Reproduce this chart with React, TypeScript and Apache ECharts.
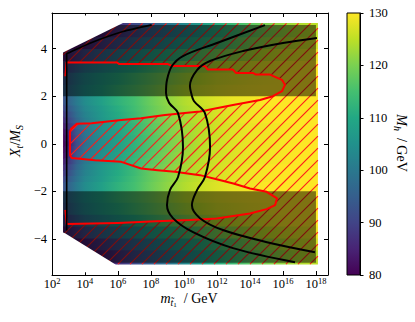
import React, { useEffect, useRef } from 'react';
import * as echarts from 'echarts';

const SERIF = 'Liberation Serif, DejaVu Serif, serif';

// columns of the Mh table: log10(m_stop / GeV)
const logMass = [2.67, 3, 3.5, 4, 5, 6, 7, 8, 9, 10, 11, 12, 13, 14, 15, 16, 17, 18.12];
// |Xt/MS| bands (mirrored to negative Xt)
const xtBandLow = [0, 0.125, 0.375, 0.625, 0.875, 1.125, 1.375, 1.625, 2.0, 2.5, 3.0, 3.5, 4.0, 4.5];
const xtBandHigh = [0.125, 0.375, 0.625, 0.875, 1.125, 1.375, 1.625, 2.0, 2.5, 3.0, 3.5, 4.0, 4.5, 5.06];
const mhRows = [
  [80, 84, 92, 98, 104, 108, 112, 116, 119.5, 122, 124.5, 126, 127.5, 128.5, 129, 129.5, 130, 130],
  [81, 85, 92.5, 98.5, 104, 108, 112, 116, 119.5, 122, 124.5, 126, 127.5, 128.5, 129, 129.5, 130, 130],
  [82, 86, 93.5, 99, 104.5, 108.5, 112.5, 116.5, 120, 122.5, 124.5, 126, 127.5, 128.5, 129, 129.5, 130, 130],
  [84, 88, 95, 100, 105, 109, 113, 117, 120, 122.5, 124.5, 126.5, 127.5, 128.5, 129, 129.5, 130, 130],
  [86, 90, 96.5, 101, 106, 110, 113.5, 117.5, 120.5, 123, 125, 126.5, 128, 129, 129.5, 130, 130, 130],
  [88, 92, 98, 102, 106.5, 110.5, 114, 118, 121, 123, 125, 127, 128, 129, 129.5, 130, 130, 130],
  [90, 94, 99, 103, 107, 111, 114.5, 118, 121, 123.5, 125.5, 127, 128, 129, 129.5, 130, 130, 130],
  [92, 96, 100.5, 104, 108, 112, 115, 118.5, 121.5, 124, 126, 127.5, 128.5, 129, 130, 130, 130, 130],
  [94, 97.5, 101.5, 105, 109, 113, 116, 119, 122, 124.5, 126.5, 128, 129, 129.5, 130, 130, 130, 130],
  [92, 95.5, 100, 103.5, 107.5, 111, 114.5, 117.5, 120.5, 123, 125, 127, 128, 129, 129.5, 130, 130, 130],
  [88, 91, 95, 99, 103, 107, 110.5, 114, 117, 120, 122.5, 124.5, 126, 127.5, 128.5, 129.5, 130, 130],
  [83, 85, 88, 91, 96, 100, 104, 108, 111, 114, 117, 119.5, 121.5, 123.5, 125.5, 127, 128, 129],
  [80, 81, 82, 84, 88, 92, 96, 100, 104, 108, 111, 114, 117, 120, 122, 124, 126, 127],
  [80, 80, 80, 81, 83, 87, 91, 95, 99, 103, 107, 111, 114, 117, 120, 122, 124, 125],
];

// red contour (boundary of the non-hatched region), [log10 m, Xt/MS]
const redUpperOuter = [
  [2.81, 2.84], [2.88, 3.42], [5.94, 3.42], [6.06, 3.36], [9.03, 3.35], [9.27, 3.27], [11.27, 3.27],
  [11.45, 3.12], [12.97, 3.12], [13.15, 2.98], [14.18, 2.98], [14.36, 2.91], [15.21, 2.91],
  [15.94, 2.69], [16.12, 2.48], [15.94, 2.21], [15.39, 2.0],
];
const redUpperInner = [
  [14.61, 1.84], [12.97, 1.63], [10.97, 1.36], [9.9, 1.28], [8.85, 1.21], [7.4, 1.07], [6.2, 1.0],
  [4.4, 0.86], [3.5, 0.84], [3.15, 0.62], [3.09, 0.51],
];
const redLowerInner = [
  [3.09, -0.48], [3.2, -0.6], [4.6, -0.69], [6.2, -0.76], [7.4, -1.04], [8.4, -1.11], [9.45, -1.18],
  [10.97, -1.32], [11.98, -1.49], [12.99, -1.67], [14.0, -1.88], [15.01, -2.02],
];
const redLowerOuter = [
  [15.64, -2.3], [15.52, -2.58], [15.01, -2.75], [14.0, -2.93], [11.98, -3.14], [10.36, -3.21],
  [7.94, -3.27], [6.0, -3.33], [2.89, -3.38], [2.81, -2.78],
];
// black contours
const blackOuter = [
  [14.91, 4.99], [12.0, 4.24], [9.94, 3.69], [9.27, 3.27], [8.97, 2.68], [8.91, 2.13], [9.1, 1.72],
  [9.64, 1.29], [9.94, -0.14], [9.64, -1.4], [9.15, -1.95], [8.97, -2.58], [9.33, -3.13],
  [10.55, -3.72], [12.97, -4.39], [16.73, -4.98],
];
const blackInner = [
  [18.06, 4.45], [16.0, 4.24], [13.58, 3.9], [11.58, 3.48], [10.79, 3.1], [10.36, 2.43], [10.45, 2.1],
  [10.6, 1.8], [11.27, 1.29], [11.58, -0.14], [11.27, -1.4], [10.79, -1.95], [10.48, -2.58],
  [10.97, -3.13], [12.36, -3.63], [15.03, -4.14], [17.94, -4.56],
];
const blackEdge = [
  [2.89, -3.65], [2.89, 3.78], [3.0, 3.82], [4.3, 4.23], [6.3, 4.72], [8.04, 5.0],
];
// region without data (top-left / bottom-left corners)
const maskTop = [[2.55, 3.8], [2.73, 3.86], [6.3, 5.08], [6.3, 5.4], [2.55, 5.4]];
const maskBottom = [[2.55, -3.7], [2.79, -3.76], [5.85, -5.08], [5.85, -5.4], [2.55, -5.4]];

const xTicks = [2, 4, 6, 8, 10, 12, 14, 16, 18];
const cbTicks = [80, 90, 100, 110, 120, 130];

const X_MIN = 2, X_MAX = 18.73, Y_MIN = -5.52, Y_MAX = 5.5;
const MH_MIN = 80, MH_MAX = 130;
const DOMAIN_R = 18.12, DOMAIN_T = 5.06, DOMAIN_L = 2.67;
const HATCH_RED = '#ff1a1a';

const VIRIDIS = ['#440154', '#482475', '#414487', '#355f8d', '#2a788e', '#21918c', '#22a884', '#44bf70', '#7ad151', '#bddf26', '#fde725'];

function hexRgb(h: string) {
  return [parseInt(h.slice(1, 3), 16), parseInt(h.slice(3, 5), 16), parseInt(h.slice(5, 7), 16)];
}
function viridis(v: number) {
  let t = (v - MH_MIN) / (MH_MAX - MH_MIN);
  t = Math.max(0, Math.min(1, t));
  const f = t * 10;
  const i = Math.min(9, Math.floor(f));
  const r = f - i;
  const a = hexRgb(VIRIDIS[i]), b = hexRgb(VIRIDIS[i + 1]);
  const c = a.map((x, k) => Math.round(x + (b[k] - x) * r));
  return `rgb(${c[0]},${c[1]},${c[2]})`;
}

type Band = { lo: number; hi: number; r: number };
const bands: Band[] = [];
xtBandLow.forEach((lo, r) => {
  const hi = xtBandHigh[r];
  if (lo === 0) bands.push({ lo: -hi, hi, r });
  else { bands.push({ lo, hi, r }); bands.push({ lo: -hi, hi: -lo, r }); }
});

function hatchSegments(poly: number[][], x0: number, x1: number, y0: number, y1: number, spacing: number, phase: number) {
  const segs: number[][] = [];
  const cMin = x0 + y0, cMax = x1 + y1;
  const start = Math.ceil((cMin - phase) / spacing) * spacing + phase;
  for (let c = start; c <= cMax; c += spacing) {
    const xs: number[] = [];
    for (let i = 0; i < poly.length; i++) {
      const p = poly[i], q = poly[(i + 1) % poly.length];
      const fp = p[0] + p[1] - c, fq = q[0] + q[1] - c;
      if ((fp < 0) !== (fq < 0)) {
        const t = fp / (fp - fq);
        xs.push(p[0] + t * (q[0] - p[0]));
      }
    }
    xs.sort((a, b) => a - b);
    for (let k = 0; k + 1 < xs.length; k += 2) segs.push([xs[k], c - xs[k], xs[k + 1], c - xs[k + 1]]);
  }
  return segs;
}

const hatchPoly = [
  [DOMAIN_L, DOMAIN_T], [DOMAIN_L, 3.42],
  ...redUpperOuter.slice(1), ...redUpperInner, ...redLowerInner, ...redLowerOuter.slice(0, -2),
  [2.89, -3.38], [DOMAIN_L, -3.38], [DOMAIN_L, -DOMAIN_T], [DOMAIN_R, -DOMAIN_T], [DOMAIN_R, DOMAIN_T],
];
const redContour = [...redUpperOuter, ...redUpperInner, ...redLowerInner, ...redLowerOuter];

const tickRich = {
  b: { fontFamily: SERIF, fontSize: 12.5, lineHeight: 14, color: '#000', verticalAlign: 'middle' },
  s: { fontFamily: SERIF, fontSize: 8.5, lineHeight: 9, padding: [0, 0, 7, 0], color: '#000', verticalAlign: 'middle' },
};
const titleRich = {
  i: { fontFamily: SERIF, fontStyle: 'italic', fontSize: 14, lineHeight: 16, color: '#000', verticalAlign: 'middle' },
  n: { fontFamily: SERIF, fontSize: 14, lineHeight: 16, color: '#000', verticalAlign: 'middle' },
  sub: { fontFamily: SERIF, fontStyle: 'italic', fontSize: 10, lineHeight: 10, padding: [8, 0, 0, 0], color: '#000', verticalAlign: 'middle' },
  ss: { fontFamily: SERIF, fontSize: 7, lineHeight: 7, padding: [13, 0, 0, 0], color: '#000', verticalAlign: 'middle' },
};

function titleText(x: number, y: number, text: string, rotation: number) {
  return {
    type: 'text', x, y, rotation, silent: true,
    style: { text, rich: titleRich, fontFamily: SERIF, textAlign: 'center', textVerticalAlign: 'middle', align: 'center', verticalAlign: 'middle' },
  };
}

const axisLineStyle = { color: '#000', width: 1 };

function buildOption(): any {
  return {
    animation: false,
    backgroundColor: '#fff',
    textStyle: { fontFamily: SERIF },
    grid: [
      { left: 52, top: 13, width: 276, height: 262, containLabel: false, outerBoundsMode: 'none' },
      { left: 347, top: 13, width: 13, height: 262, containLabel: false, outerBoundsMode: 'none' },
    ],
    xAxis: [
      {
        gridIndex: 0, type: 'value', position: 'bottom', min: X_MIN, max: X_MAX, interval: 2,
        axisLine: { onZero: false, lineStyle: axisLineStyle },
        axisTick: { inside: true, length: 4, lineStyle: axisLineStyle },
        splitLine: { show: false },
        axisLabel: {
          margin: 2, showMaxLabel: false, rich: tickRich, fontFamily: SERIF,
          formatter: (v: number) => {
            const n = Math.round(v);
            return Math.abs(v - n) < 1e-6 && xTicks.includes(n) ? `{b|10}{s|${n}}` : '';
          },
        },
      },
      {
        gridIndex: 0, type: 'value', position: 'top', min: X_MIN, max: X_MAX, interval: 2,
        axisLine: { onZero: false, lineStyle: axisLineStyle },
        axisTick: { inside: true, length: 4, lineStyle: axisLineStyle },
        splitLine: { show: false }, axisLabel: { show: false },
      },
      { gridIndex: 1, type: 'value', min: 0, max: 1, show: false },
    ],
    yAxis: [
      {
        gridIndex: 0, type: 'value', position: 'left', min: Y_MIN, max: Y_MAX,
        axisLine: { onZero: false, lineStyle: axisLineStyle },
        axisTick: { inside: true, length: 4, lineStyle: axisLineStyle },
        splitLine: { show: false },
        axisLabel: {
          margin: 5, color: '#000', fontFamily: SERIF, fontSize: 12.5,
          formatter: (v: number) => {
            const n = Math.round(v);
            if (Math.abs(v - n) > 1e-6) return '';
            return n < 0 ? '\u2212' + -n : String(n);
          },
        },
      },
      {
        gridIndex: 0, type: 'value', position: 'right', min: Y_MIN, max: Y_MAX,
        axisLine: { onZero: false, lineStyle: axisLineStyle },
        axisTick: { inside: true, length: 4, lineStyle: axisLineStyle },
        splitLine: { show: false }, axisLabel: { show: false },
      },
      {
        gridIndex: 1, type: 'value', position: 'right', min: MH_MIN, max: MH_MAX, interval: 10,
        axisLine: { onZero: false, lineStyle: axisLineStyle },
        axisTick: { inside: false, length: 3.5, lineStyle: axisLineStyle },
        splitLine: { show: false },
        axisLabel: {
          margin: 9, color: '#000', fontFamily: SERIF, fontSize: 12.5,
          formatter: (v: number) => (cbTicks.includes(Math.round(v)) ? String(Math.round(v)) : ''),
        },
      },
    ],
    series: [
      {
        type: 'custom', name: 'Mh map', xAxisIndex: 0, yAxisIndex: 0, z: 2, silent: true,
        data: bands.map((b) => [logMass[0], b.lo]),
        renderItem: (params: any, api: any) => {
          const b = bands[params.dataIndex];
          const row = mhRows[b.r];
          const p0 = api.coord([logMass[0], b.hi]);
          const p1 = api.coord([logMass[logMass.length - 1], b.lo]);
          const span = logMass[logMass.length - 1] - logMass[0];
          const stops = logMass.map((l, k) => ({ offset: (l - logMass[0]) / span, color: viridis(row[k]) }));
          return {
            type: 'rect',
            shape: { x: p0[0], y: p0[1] - 0.4, width: p1[0] - p0[0], height: p1[1] - p0[1] + 0.8 },
            style: { fill: new echarts.graphic.LinearGradient(0, 0, 1, 0, stops), stroke: null },
          };
        },
      },
      {
        type: 'custom', name: 'hatch', xAxisIndex: 0, yAxisIndex: 0, z: 3, silent: true,
        itemStyle: { color: HATCH_RED, borderColor: HATCH_RED },
        data: [[DOMAIN_L, 0]],
        renderItem: (params: any, api: any) => {
          const poly = hatchPoly.map((p) => api.coord(p));
          const cs = params.coordSys;
          const segs = hatchSegments(poly, cs.x, cs.x + cs.width, cs.y, cs.y + cs.height, 12, 10);
          return {
            type: 'group',
            children: segs.map((s) => ({
              type: 'polyline', shape: { points: [[s[0], s[1]], [s[2], s[3]]] },
              style: { stroke: HATCH_RED, fill: null, lineWidth: 1.1, opacity: 1 },
            })),
          };
        },
      },
      {
        type: 'custom', name: 'shade', xAxisIndex: 0, yAxisIndex: 0, z: 4, silent: true,
        data: [[DOMAIN_L, 2]],
        renderItem: (params: any, api: any) => {
          const a0 = api.coord([DOMAIN_L, 5.0]), a1 = api.coord([18.0, 2.0]);
          const b0 = api.coord([DOMAIN_L, -2.0]), b1 = api.coord([18.0, -5.0]);
          const st = { fill: 'rgba(0,0,0,0.5)', stroke: null };
          return {
            type: 'group',
            children: [
              { type: 'rect', shape: { x: a0[0], y: a0[1], width: a1[0] - a0[0], height: a1[1] - a0[1] }, style: st },
              { type: 'rect', shape: { x: b0[0], y: b0[1], width: b1[0] - b0[0], height: b1[1] - b0[1] }, style: st },
            ],
          };
        },
      },
      {
        type: 'custom', name: 'mask', xAxisIndex: 0, yAxisIndex: 0, z: 5, silent: true,
        data: [[DOMAIN_L, 4]],
        renderItem: (params: any, api: any) => ({
          type: 'group',
          children: [maskTop, maskBottom].map((m) => ({
            type: 'polygon', shape: { points: m.map((p) => api.coord(p)) }, style: { fill: '#fff', stroke: null },
          })),
        }),
      },
      {
        type: 'line', name: 'red', xAxisIndex: 0, yAxisIndex: 0, z: 6, silent: true,
        data: redContour, showSymbol: false, symbol: 'none',
        lineStyle: { color: '#ff0000', width: 2, join: 'round' },
      },
      ...[blackOuter, blackInner].map((d, i) => ({
        type: 'line', name: 'black' + i, xAxisIndex: 0, yAxisIndex: 0, z: 7, silent: true,
        data: d, showSymbol: false, symbol: 'none', smooth: 0.35,
        lineStyle: { color: '#000', width: 2 },
      })),
      {
        type: 'line', name: 'blackEdge', xAxisIndex: 0, yAxisIndex: 0, z: 7, silent: true,
        data: blackEdge, showSymbol: false, symbol: 'none', smooth: 0.2,
        lineStyle: { color: '#000', width: 1.6 },
      },
      {
        type: 'custom', name: 'colorbar', xAxisIndex: 2, yAxisIndex: 2, z: 2, silent: true,
        data: [[0.5, 105]],
        renderItem: (params: any) => {
          const cs = params.coordSys;
          return {
            type: 'rect',
            shape: { x: cs.x, y: cs.y, width: cs.width, height: cs.height },
            style: {
              fill: new echarts.graphic.LinearGradient(0, 1, 0, 0, VIRIDIS.map((c, i) => ({ offset: i / 10, color: c }))),
              stroke: '#000', lineWidth: 1,
            },
          };
        },
      },
    ],
    graphic: [
      titleText(189, 298, '{i|m}{sub|t\u0303}{ss|1}{n|  / GeV}', 0),
      titleText(15, 141, '{i|X}{sub|t}{n|/}{i|M}{sub|S}', Math.PI / 2),
      titleText(401, 143, '{i|M}{sub|h}{n|  / GeV}', -Math.PI / 2),
    ],
  };
}

export default function App() {
  const ref = useRef<HTMLDivElement>(null);
  useEffect(() => {
    const chart = echarts.init(ref.current!, undefined, { renderer: 'svg' });
    chart.setOption(buildOption());
    return () => chart.dispose();
  }, []);
  return (
    <div
      ref={ref}
      style={{ position: 'fixed', left: 0, top: 0, width: 415, height: 322, background: '#fff' }}
    />
  );
}
